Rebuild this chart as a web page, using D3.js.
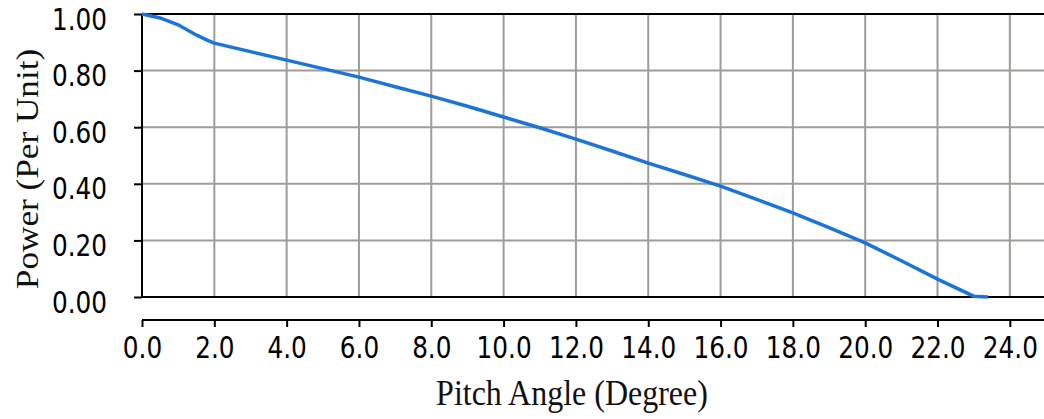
<!DOCTYPE html>
<html>
<head>
<meta charset="utf-8">
<script src="https://cdn.jsdelivr.net/npm/d3@7"></script>
<style>
  html, body { margin: 0; padding: 0; background: #fff; }
  svg { display: block; }
  .tick-label { font-family: "DejaVu Sans", sans-serif; font-stretch: condensed; font-size: 27.5px; fill: #000; }
  .title { font-family: "Liberation Serif", "Times New Roman", serif; font-size: 32px; fill: #111; }
</style>
</head>
<body>
<div id="chart"></div>
<script>
// pitch angle (deg) vs power (p.u.)
const pitchAngle = [0, 0.5, 1.0, 1.5, 1.8, 2.0, 3.0, 4.0, 5.0, 6.0, 7.0, 8.0, 9.0, 10.0, 11.0, 12.0, 13.0, 14.0, 15.0, 16.0, 17.0, 18.0, 19.0, 20.0, 21.0, 22.0, 23.0, 23.4];
const power = [1.000, 0.986, 0.962, 0.926, 0.908, 0.897, 0.867, 0.837, 0.807, 0.777, 0.743, 0.710, 0.674, 0.636, 0.598, 0.558, 0.516, 0.473, 0.433, 0.392, 0.345, 0.297, 0.245, 0.191, 0.128, 0.063, 0.003, 0.000];

const xTicks = d3.range(0, 24.01, 2);
const yTicks = [0, 0.2, 0.4, 0.6, 0.8, 1.0];

const W = 1044, H = 419;
const SY = 1.1; // the original is a bit stretched vertically
const svg = d3.select('#chart').append('svg')
  .attr('width', W)
  .attr('height', H);

const x = d3.scaleLinear().domain([0, 25]).range([142, 1046]);
const y = d3.scaleLinear().domain([0, 1]).range([297, 14]);

// grid
svg.append('g')
  .selectAll('line')
  .data(xTicks.filter(d => d > 0))
  .join('line')
  .attr('x1', d => x(d)).attr('x2', d => x(d))
  .attr('y1', y(1)).attr('y2', y(0))
  .attr('stroke', '#a09c98').attr('stroke-width', 2);

svg.append('g')
  .selectAll('line')
  .data(yTicks.filter(d => d > 0 && d < 1))
  .join('line')
  .attr('x1', x(0)).attr('x2', W)
  .attr('y1', d => y(d)).attr('y2', d => y(d))
  .attr('stroke', '#a09c98').attr('stroke-width', 2);

// frame lines (top, bottom) in black
svg.append('g')
  .selectAll('line')
  .data([0, 1])
  .join('line')
  .attr('x1', x(0)).attr('x2', W)
  .attr('y1', d => y(d)).attr('y2', d => y(d))
  .attr('stroke', '#000').attr('stroke-width', 2);

// y axis
const yAxis = d3.axisLeft(y).tickValues(yTicks).tickSize(8).tickFormat(d3.format('.2f'));
const gy = svg.append('g')
  .attr('transform', `translate(${x(0)},0)`)
  .call(yAxis);
gy.select('.domain').attr('stroke', '#000').attr('stroke-width', 2).attr('d', `M0,${y(1)}V${y(0)}`);
gy.selectAll('.tick line').attr('stroke', '#000').attr('stroke-width', 2);
gy.selectAll('.tick text')
  .attr('class', 'tick-label')
  .attr('x', -35)
  .attr('y', 15 / SY)
  .attr('dy', 0)
  .attr('transform', `scale(1,${SY})`);
gy.attr('font-family', null).attr('font-size', null);

// x axis, detached below the plot
const xAxis = d3.axisBottom(x).tickValues(xTicks).tickSize(7).tickFormat(d3.format('.1f'));
const gx = svg.append('g')
  .attr('transform', 'translate(0,320)')
  .call(xAxis);
gx.select('.domain').attr('stroke', '#000').attr('stroke-width', 2).attr('d', `M${x(0)},0H${W}`);
gx.selectAll('.tick line').attr('stroke', '#000').attr('stroke-width', 2);
gx.selectAll('.tick text')
  .attr('class', 'tick-label')
  .attr('y', 38 / SY)
  .attr('dy', 0)
  .attr('transform', `scale(1,${SY})`);
gx.attr('font-family', null).attr('font-size', null);

// curve
const pts = pitchAngle.map((a, i) => [a, power[i]]);
svg.append('path')
  .datum(pts)
  .attr('fill', 'none')
  .attr('stroke', '#1c74d8')
  .attr('stroke-width', 3.5)
  .attr('d', d3.line().x(d => x(d[0])).y(d => y(d[1])));

// titles
svg.append('text')
  .attr('class', 'title')
  .attr('transform', `translate(572,405) scale(1,${SY})`)
  .attr('text-anchor', 'middle')
  .text('Pitch Angle (Degree)');

svg.append('text')
  .attr('class', 'title')
  .attr('transform', `translate(38,169) rotate(-90) scale(${SY},1)`)
  .attr('text-anchor', 'middle')
  .text('Power (Per Unit)');
</script>
</body>
</html>
